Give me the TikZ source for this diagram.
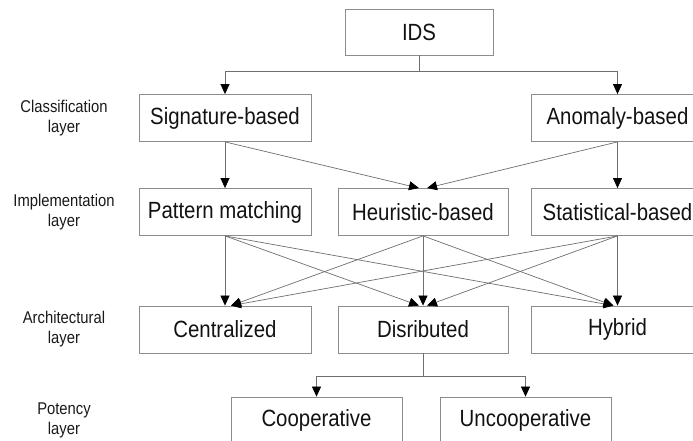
\documentclass[tikz,border=0pt]{standalone}
\usepackage{fontspec}
\usepackage{graphicx}
\setmainfont{Liberation Sans}
\usetikzlibrary{arrows.meta}
\definecolor{boxgray}{HTML}{8C8C8C}
\definecolor{linegray}{HTML}{6E6E6E}
\newcommand{\tx}[1]{\scalebox{1}[1.15]{#1}}
\tikzset{
  boxnode/.style={draw=boxgray, line width=0.8pt, minimum width=172pt, minimum height=47pt,
    inner sep=0pt, font=\fontsize{20.4}{24}\selectfont, text=black!93},
  layernode/.style={align=center, inner sep=0pt, font=\fontsize{14.8}{20}\selectfont, text=black!90},
  conn/.style={draw=linegray, line width=0.7pt},
  arr/.style={conn, -{Triangle[length=10pt,width=9pt,color=black]}}
}
\begin{document}
\begin{tikzpicture}[x=1pt,y=-1pt]
\useasboundingbox (0,0) rectangle (693,441);
% boxes
\node[boxnode, minimum width=148pt, minimum height=46pt] (ids) at (419,32) {\tx{IDS}};
\node[boxnode] (sig) at (225,118) {\tx{Signature-based}};
\node[boxnode] (ano) at (617.5,118) {\tx{Anomaly-based}};
\node[boxnode] (pat) at (225,212) {\tx{Pattern matching}};
\node[boxnode, minimum width=170pt] (heu) at (423,212) {\tx{Heuristic-based}};
\node[boxnode] (sta) at (617.5,212) {\tx{Statistical-based}};
\node[boxnode] (cen) at (225,329.5) {\tx{Centralized}};
\node[boxnode, minimum width=170pt] (dis) at (423,329.5) {\tx{Disributed}};
\node[boxnode] (hyb) at (617.5,329.5) {\tx{Hybrid}};
\node[boxnode, minimum width=171pt] (coo) at (316.5,420.5) {\tx{Cooperative}};
\node[boxnode, minimum width=171pt] (unc) at (525.5,420.5) {\tx{Uncooperative}};
% layer labels
\node[layernode] (l1) at (64,118) {\tx{Classification}\\\tx{layer}};
\node[layernode] (l2) at (64,212) {\tx{Implementation}\\\tx{layer}};
\node[layernode] (l3) at (64,329.5) {\tx{Architectural}\\\tx{layer}};
\node[layernode] (l4) at (64,420) {\tx{Potency}\\\tx{layer}};
% IDS to classification
\coordinate (hj) at (419,71);
\draw[conn] (ids.south) -- (hj);
\draw[arr] (hj) -| (sig.north);
\draw[arr] (hj) -| (ano.north);
% classification to implementation
\draw[arr] (sig.south) -- (pat.north);
\draw[arr] (sig.south) -- ([xshift=-4pt]heu.north);
\draw[arr] (ano.south) -- ([xshift=4pt]heu.north);
\draw[arr] (ano.south) -- (sta.north);
% implementation to architectural
\draw[arr] (pat.south) -- (cen.north);
\draw[arr] (pat.south) -- ([xshift=-4pt]dis.north);
\draw[arr] (pat.south) -- ([xshift=-4pt]hyb.north);
\draw[arr] (heu.south) -- ([xshift=6pt]cen.north);
\draw[arr] (heu.south) -- (dis.north);
\draw[arr] (heu.south) -- ([xshift=-4pt]hyb.north);
\draw[arr] (sta.south) -- ([xshift=6pt]cen.north);
\draw[arr] (sta.south) -- ([xshift=4pt]dis.north);
\draw[arr] (sta.south) -- (hyb.north);
% distributed to potency
\coordinate (dj) at (423,376);
\draw[conn] (dis.south) -- (dj);
\draw[arr] (dj) -| (coo.north);
\draw[arr] (dj) -| (unc.north);
\end{tikzpicture}
\end{document}
